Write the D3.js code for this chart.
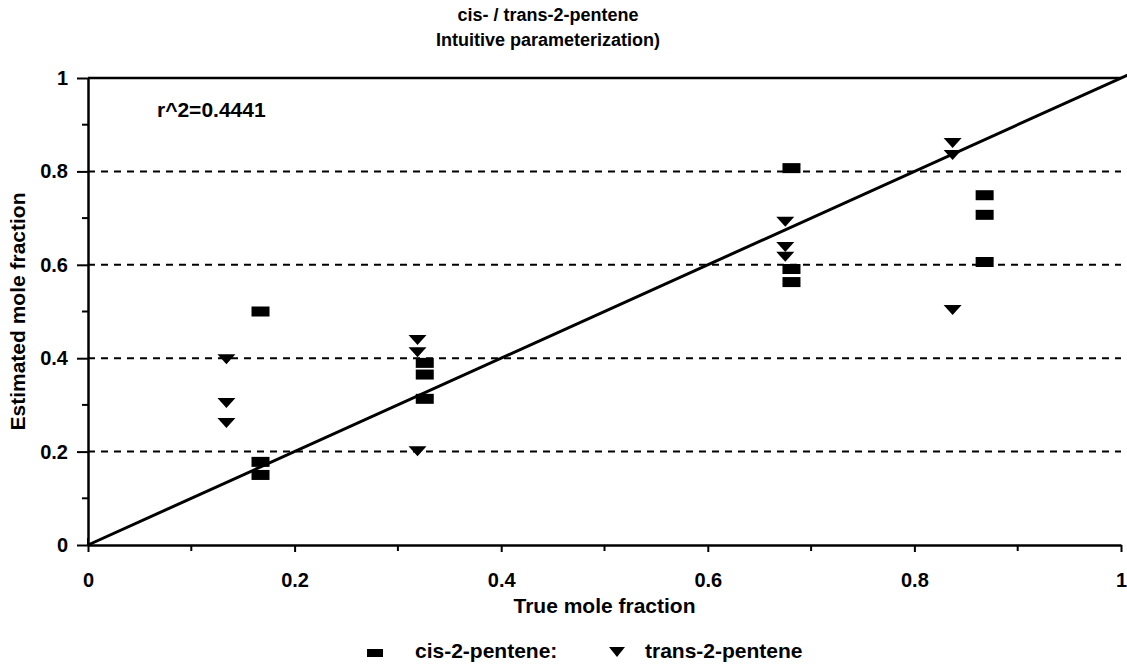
<!DOCTYPE html>
<html>
<head>
<meta charset="utf-8">
<script src="https://cdn.jsdelivr.net/npm/d3@7"></script>
<style>
  body { margin: 0; background: #fff; }
  svg text { font-family: "Liberation Sans", Arial, sans-serif; font-weight: bold; fill: #000; }
</style>
</head>
<body>
<div id="chart"></div>
<script>
// values
var cisX = [0.167, 0.167, 0.167, 0.326, 0.326, 0.326, 0.681, 0.681, 0.681, 0.868, 0.868, 0.868];
var cisY = [0.50, 0.178, 0.15, 0.39, 0.365, 0.313, 0.807, 0.591, 0.563, 0.749, 0.707, 0.606];
var transX = [0.134, 0.134, 0.134, 0.319, 0.319, 0.319, 0.675, 0.675, 0.675, 0.837, 0.837, 0.837];
var transY = [0.398, 0.304, 0.261, 0.439, 0.413, 0.201, 0.692, 0.638, 0.617, 0.861, 0.835, 0.503];
var majorTicks = [0, 0.2, 0.4, 0.6, 0.8, 1];
var minorTicks = [0.1, 0.3, 0.5, 0.7, 0.9];
var gridTicks = [0.2, 0.4, 0.6, 0.8];
var fitLine = [0, 1.012];

var svg = d3.select("#chart").append("svg")
    .attr("width", 1127)
    .attr("height", 670);

var x = d3.scaleLinear().domain([0, 1]).range([88, 1121]);
var y = d3.scaleLinear().domain([0, 1]).range([545, 78]);

// titles
svg.append("text").attr("x", 548).attr("y", 21).attr("text-anchor", "middle")
    .style("font-size", "18px").text("cis- / trans-2-pentene");
svg.append("text").attr("x", 548).attr("y", 46).attr("text-anchor", "middle")
    .style("font-size", "18px").text("Intuitive parameterization)");

// dashed grid
svg.append("g").selectAll("line").data(gridTicks).enter().append("line")
    .attr("x1", x(0)).attr("x2", x(1))
    .attr("y1", function(d) { return y(d); })
    .attr("y2", function(d) { return y(d); })
    .attr("stroke", "#000").attr("stroke-width", 2)
    .attr("stroke-dasharray", "7,6");

// top line at 1
svg.append("line")
    .attr("x1", x(0)).attr("x2", x(1))
    .attr("y1", y(1)).attr("y2", y(1))
    .attr("stroke", "#000").attr("stroke-width", 2.5);

// axes
var yAxis = svg.append("g")
    .attr("transform", "translate(" + x(0) + ",0)")
    .call(d3.axisLeft(y).tickValues(majorTicks).tickSize(11).tickSizeOuter(0)
        .tickPadding(9).tickFormat(d3.format("~g")));
yAxis.append("g").selectAll("line").data(minorTicks).enter().append("line")
    .attr("x1", -6).attr("x2", 0)
    .attr("y1", function(d) { return y(d); })
    .attr("y2", function(d) { return y(d); })
    .attr("stroke", "#000").attr("stroke-width", 2);

var xAxis = svg.append("g")
    .attr("transform", "translate(0," + y(0) + ")")
    .call(d3.axisBottom(x).tickValues(majorTicks).tickSize(7).tickSizeOuter(0)
        .tickPadding(21).tickFormat(d3.format("~g")));
xAxis.append("g").selectAll("line").data(minorTicks).enter().append("line")
    .attr("x1", function(d) { return x(d); })
    .attr("x2", function(d) { return x(d); })
    .attr("y1", 0).attr("y2", 6)
    .attr("stroke", "#000").attr("stroke-width", 2);
xAxis.append("line").attr("x1", x(0)).attr("x2", x(0)).attr("y1", -7).attr("y2", 0)
    .attr("stroke", "#000").attr("stroke-width", 2);

svg.selectAll(".domain").attr("stroke-width", 2.5);
svg.selectAll(".tick line").attr("stroke-width", 2);
svg.selectAll(".tick text").style("font-size", "20px").style("font-family", "Liberation Sans, Arial, sans-serif");

// axis titles
svg.append("text").attr("x", x(0.5)).attr("y", 613).attr("text-anchor", "middle")
    .style("font-size", "21px").text("True mole fraction");
svg.append("text").attr("transform", "translate(25," + y(0.5) + ") rotate(-90)")
    .attr("text-anchor", "middle").style("font-size", "21px").text("Estimated mole fraction");

// r^2 note
svg.append("text").attr("x", 157).attr("y", 117).style("font-size", "21px").text("r^2=0.4441");

// y = x line
svg.append("line")
    .attr("x1", x(fitLine[0])).attr("y1", y(fitLine[0]))
    .attr("x2", x(fitLine[1])).attr("y2", y(fitLine[1]))
    .attr("stroke", "#000").attr("stroke-width", 3);

// markers
svg.append("g").selectAll("rect").data(cisX).enter().append("rect")
    .attr("x", function(d) { return x(d) - 9; })
    .attr("y", function(d, i) { return y(cisY[i]) - 5; })
    .attr("width", 18).attr("height", 10)
    .attr("fill", "#000");
svg.append("g").selectAll("path").data(transX).enter().append("path")
    .attr("d", "M-9,-5L9,-5L0,5Z")
    .attr("transform", function(d, i) { return "translate(" + x(d) + "," + y(transY[i]) + ")"; })
    .attr("fill", "#000");

// legend
var legend = svg.append("g");
legend.append("rect").attr("x", 367).attr("y", 649).attr("width", 16).attr("height", 8).attr("fill", "#000");
legend.append("text").attr("x", 415).attr("y", 658).style("font-size", "21px").text("cis-2-pentene:");
legend.append("path").attr("d", "M-8,-5L8,-5L0,5Z").attr("transform", "translate(617,652)").attr("fill", "#000");
legend.append("text").attr("x", 645).attr("y", 658).style("font-size", "21px").text("trans-2-pentene");
</script>
</body>
</html>
